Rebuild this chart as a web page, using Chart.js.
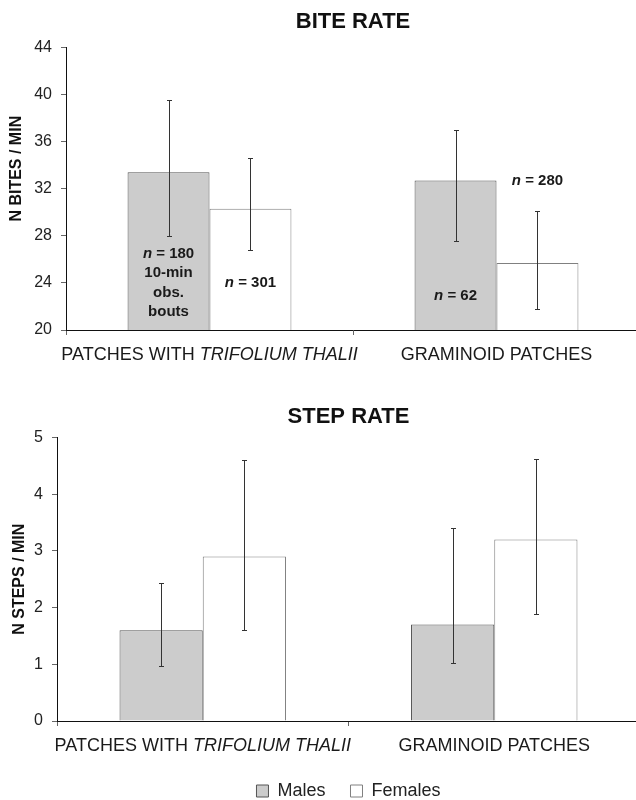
<!DOCTYPE html>
<html>
<head>
<meta charset="utf-8">
<script src="https://cdn.jsdelivr.net/npm/chart.js@4.4.1/dist/chart.umd.min.js"></script>
<style>
  html, body { margin: 0; padding: 0; background: #fff; overflow: hidden; }
  #wrap { width: 636px; height: 800px; overflow: hidden; }
  canvas { display: block; }
</style>
</head>
<body>
<div id="wrap">
  <canvas id="bite" width="640" height="370"></canvas>
  <canvas id="step" width="640" height="440"></canvas>
</div>
<script>
var categories = ['PATCHES WITH TRIFOLIUM THALII', 'GRAMINOID PATCHES'];
var italicPart = 'TRIFOLIUM THALII';
var seriesNames = ['Males', 'Females'];

// bite rate (n bites / min), means and error bar ends
var biteMale = [33.4, 32.7];
var biteFemale = [30.3, 25.7];
var biteMaleLow = [28.0, 27.6];
var biteMaleHigh = [39.5, 37.0];
var biteFemaleLow = [26.8, 21.8];
var biteFemaleHigh = [34.6, 30.1];
var biteTicks = [20, 24, 28, 32, 36, 40, 44];

// step rate (n steps / min)
var stepMale = [1.6, 1.7];
var stepFemale = [2.9, 3.2];
var stepMaleLow = [0.97, 1.02];
var stepMaleHigh = [2.43, 3.40];
var stepFemaleLow = [1.60, 1.88];
var stepFemaleHigh = [4.61, 4.62];
var stepTicks = [0, 1, 2, 3, 4, 5];

// sample size notes: series index, category index, value where the text sits
var biteNotes = [
    { ds: 0, cat: 0, value: 26.5, lines: ['n = 180', '10-min', 'obs.', 'bouts'] },
    { ds: 1, cat: 0, value: 24.0, lines: ['n = 301'] },
    { ds: 0, cat: 1, value: 22.9, lines: ['n = 62'] },
    { ds: 1, cat: 1, value: 32.7, lines: ['n = 280'] }
];

var FONT = '"Liberation Sans", Arial, sans-serif';
Chart.defaults.font.family = FONT;
Chart.defaults.color = '#222';

function drawNote(ctx, text, cx, cy) {
    var bold = 'bold 15px ' + FONT, boldIt = 'italic bold 15px ' + FONT;
    ctx.textBaseline = 'middle';
    ctx.textAlign = 'left';
    ctx.fillStyle = '#1a1a1a';
    if (text.indexOf('n = ') === 0) {
        var rest = text.slice(1);
        ctx.font = boldIt;
        var w1 = ctx.measureText('n').width;
        ctx.font = bold;
        var w2 = ctx.measureText(rest).width;
        var x0 = cx - (w1 + w2) / 2;
        ctx.font = boldIt;
        ctx.fillText('n', x0, cy);
        ctx.font = bold;
        ctx.fillText(rest, x0 + w1, cy);
    } else {
        ctx.font = bold;
        ctx.textAlign = 'center';
        ctx.fillText(text, cx, cy);
    }
}

function drawCategory(ctx, label, cx, cy) {
    var plain = '18px ' + FONT, it = 'italic 18px ' + FONT;
    var idx = label.indexOf(italicPart);
    var parts = idx < 0 ? [[label, plain]] : [[label.slice(0, idx), plain], [italicPart, it], [label.slice(idx + italicPart.length), plain]];
    var total = 0;
    parts.forEach(function (p) { ctx.font = p[1]; total += ctx.measureText(p[0]).width; });
    var x = cx - total / 2;
    ctx.textBaseline = 'middle';
    ctx.textAlign = 'left';
    ctx.fillStyle = '#1a1a1a';
    parts.forEach(function (p) {
        ctx.font = p[1];
        ctx.fillText(p[0], x, cy);
        x += ctx.measureText(p[0]).width;
    });
}

function extras(lows, highs, notes) {
    return {
        id: 'extras',
        afterDatasetsDraw: function (chart) {
            var ctx = chart.ctx, y = chart.scales.y, x = chart.scales.x;
            ctx.save();
            ctx.strokeStyle = '#333';
            ctx.lineWidth = 1;
            chart.data.datasets.forEach(function (ds, d) {
                chart.getDatasetMeta(d).data.forEach(function (bar, i) {
                    var px = Math.round(bar.x) + 0.5;
                    var top = Math.round(y.getPixelForValue(highs[d][i])) + 0.5;
                    var bot = Math.round(y.getPixelForValue(lows[d][i])) + 0.5;
                    ctx.beginPath();
                    ctx.moveTo(px, top); ctx.lineTo(px, bot);
                    ctx.moveTo(px - 2.5, top); ctx.lineTo(px + 2.5, top);
                    ctx.moveTo(px - 2.5, bot); ctx.lineTo(px + 2.5, bot);
                    ctx.stroke();
                });
            });
            notes.forEach(function (n) {
                var bar = chart.getDatasetMeta(n.ds).data[n.cat];
                var cy = y.getPixelForValue(n.value);
                n.lines.forEach(function (line, j) {
                    drawNote(ctx, line, bar.x, cy + j * 19.5);
                });
            });
            chart.data.labels.forEach(function (label, i) {
                drawCategory(ctx, label, x.getPixelForValue(i), chart.chartArea.bottom + 25);
            });
            ctx.restore();
        }
    };
}

function makeChart(id, opts) {
    var ticks = opts.ticks;
    return new Chart(document.getElementById(id), {
        type: 'bar',
        data: {
            labels: categories,
            datasets: [{
                label: seriesNames[0],
                data: opts.male,
                backgroundColor: '#cccccc',
                borderColor: '#555555',
                borderWidth: 1,
                categoryPercentage: 0.571,
                barPercentage: 1
            }, {
                label: seriesNames[1],
                data: opts.female,
                backgroundColor: '#ffffff',
                borderColor: '#808080',
                borderWidth: 1,
                categoryPercentage: 0.571,
                barPercentage: 1
            }]
        },
        options: {
            responsive: false,
            animation: false,
            devicePixelRatio: 1,
            layout: { padding: 0 },
            plugins: {
                title: {
                    display: true,
                    text: opts.title,
                    fullSize: false,
                    color: '#111',
                    font: { size: 22, weight: 'bold' },
                    padding: opts.titlePad
                },
                legend: opts.legend,
                tooltip: { enabled: false }
            },
            scales: {
                x: {
                    ticks: { display: false },
                    grid: { drawOnChartArea: false, tickLength: 5, color: '#666' },
                    border: { color: '#111' },
                    afterFit: function (s) { s.height = opts.xHeight; }
                },
                y: {
                    min: ticks[0],
                    max: ticks[ticks.length - 1],
                    ticks: { stepSize: ticks[1] - ticks[0], padding: 9, color: '#222', font: { size: 16 } },
                    grid: { drawOnChartArea: false, tickLength: 5, color: '#666' },
                    border: { color: '#111' },
                    title: {
                        display: true,
                        text: opts.yTitle,
                        color: '#111',
                        font: { size: 16, weight: 'bold' },
                        padding: { top: opts.yTitlePad, bottom: 0 }
                    },
                    afterFit: function (s) { s.width = opts.yWidth; }
                }
            }
        },
        plugins: [extras(opts.lows, opts.highs, opts.notes)]
    });
}

makeChart('bite', {
    title: 'BITE RATE',
    titlePad: { top: 9, bottom: 12 },
    yTitle: '         N BITES / MIN',
    yTitlePad: 7,
    yWidth: 66,
    xHeight: 40,
    ticks: biteTicks,
    male: biteMale,
    female: biteFemale,
    lows: [biteMaleLow, biteFemaleLow],
    highs: [biteMaleHigh, biteFemaleHigh],
    notes: biteNotes,
    legend: { display: false }
});

makeChart('step', {
    title: 'STEP RATE',
    titlePad: { top: 34, bottom: 7 },
    yTitle: 'N STEPS / MIN',
    yTitlePad: 10,
    yWidth: 57,
    xHeight: 36,
    ticks: stepTicks,
    male: stepMale,
    female: stepFemale,
    lows: [stepMaleLow, stepFemaleLow],
    highs: [stepMaleHigh, stepFemaleHigh],
    notes: [],
    legend: {
        display: true,
        position: 'bottom',
        fullSize: false,
        labels: { boxWidth: 12, boxHeight: 12, padding: 25, color: '#222', font: { size: 18 } }
    }
});
</script>
</body>
</html>
